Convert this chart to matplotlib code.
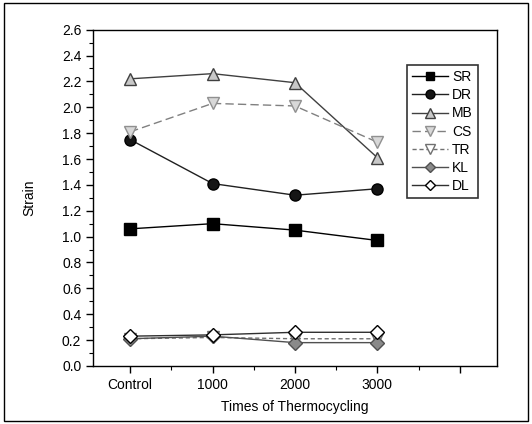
import matplotlib
matplotlib.use("Agg")
import matplotlib.pyplot as plt
from matplotlib.patches import Rectangle

plt.rcParams['font.family'] = ['Liberation Sans', 'DejaVu Sans']

# thermocycling counts (Control = 0)
cycles = [0, 1000, 2000, 3000]
tick_labels = ["Control", "1000", "2000", "3000", ""]

SR = [1.06, 1.10, 1.05, 0.97]
DR = [1.75, 1.41, 1.32, 1.37]
MB = [2.22, 2.26, 2.19, 1.61]
CS = [1.81, 2.03, 2.01, 1.73]
TR = [0.21, 0.22, 0.21, 0.21]
KL = [0.21, 0.23, 0.18, 0.18]
DL = [0.23, 0.24, 0.26, 0.26]

fig = plt.figure(figsize=(5.32, 4.24), dpi=100)
ax = fig.add_axes([0.175, 0.137, 0.759, 0.793])

ax.plot(cycles, SR, color="black", lw=1.0, marker="s", ms=8, mfc="black", mec="black", label="SR")
ax.plot(cycles, DR, color="#202020", lw=1.0, marker="o", ms=8, mfc="#151515", mec="black", label="DR")
ax.plot(cycles, MB, color="#404040", lw=1.0, marker="^", ms=9, mfc="#c8c8c8", mec="#404040", label="MB")
ax.plot(cycles, CS, color="#808080", lw=1.0, ls=(0, (6, 3)), marker="v", ms=9, mfc="#d8d8d8", mec="#909090", label="CS")
ax.plot(cycles, TR, color="#707070", lw=1.0, ls=(0, (3, 2)), marker="v", ms=9, mfc="white", mec="#707070", label="TR")
ax.plot(cycles, KL, color="#505050", lw=1.0, marker="D", ms=7, mfc="#8a8a8a", mec="#505050", label="KL")
ax.plot(cycles, DL, color="#303030", lw=1.0, marker="D", ms=7, mfc="white", mec="black", label="DL")

ax.set_xlim(-450, 4450)
ax.set_ylim(0, 2.6)
ax.set_xticks([0, 1000, 2000, 3000, 4000])
ax.set_xticklabels(tick_labels)
ax.set_xticks([500, 1500, 2500, 3500], minor=True)
ax.set_yticks([i * 0.2 for i in range(14)])
ax.set_yticklabels([f"{i * 0.2:.1f}" for i in range(14)])
ax.set_yticks([0.1 + i * 0.2 for i in range(13)], minor=True)

ax.tick_params(axis="both", which="major", direction="out", length=5, width=1, labelsize=10)
ax.tick_params(axis="both", which="minor", direction="out", length=3, width=0.8)
ax.tick_params(top=False, right=False)
for s in ax.spines.values():
    s.set_linewidth(1.0)

ax.set_xlabel("Times of Thermocycling", fontsize=10, labelpad=6)
ax.set_ylabel("Strain", fontsize=10, labelpad=18)

leg = ax.legend(loc="upper left", bbox_to_anchor=(0.76, 0.915), frameon=True, fancybox=False,
                edgecolor="black", fontsize=10, handlelength=2.6, handletextpad=0.3,
                labelspacing=0.3, borderpad=0.35, markerscale=0.8)
leg.get_frame().set_linewidth(1.2)

# outer border round the whole figure
fig.patches.append(Rectangle((0.008, 0.008), 0.984, 0.984, transform=fig.transFigure,
                             fill=False, edgecolor="black", lw=1.0))

fig.savefig("out.png", dpi=100)
